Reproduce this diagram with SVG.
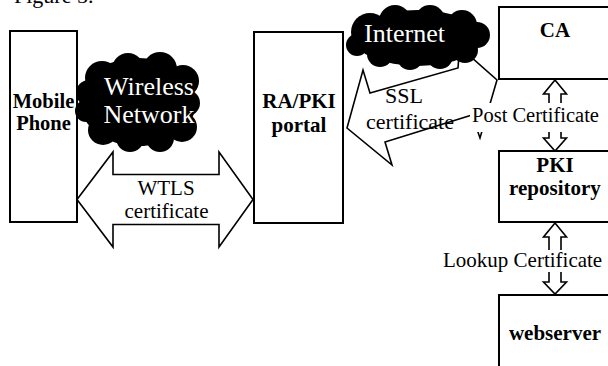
<svg xmlns="http://www.w3.org/2000/svg" width="608" height="366" viewBox="0 0 608 366">
<style>
.box{fill:#fff;stroke:#000;stroke-width:2}
.arr{fill:#fff;stroke:#000;stroke-width:1.6;stroke-linejoin:miter}
.cloud{fill:#000}
.b{font-family:"Liberation Serif","Times New Roman",serif;font-weight:bold;font-size:21px;text-anchor:middle;fill:#000}
.t{font-family:"Liberation Serif","Times New Roman",serif;font-size:21px;fill:#000}
.w{font-family:"Liberation Serif","Times New Roman",serif;font-size:26px;fill:#fff;text-anchor:middle}
.bg{fill:#fff}
</style>
<rect width="608" height="366" fill="#fff"/>
<text class="t" x="14" y="3" style="font-size:22px">Figure 5.</text>

<g id="connectors">
  <path id="ssl" class="arr" d="M347,128 L363,70 L370,93 L458,68 L459,55 L463,50 L497,80 L480,138 L472,115 L385,142 L392,165 Z"/>
  <path id="wtls" class="arr" d="M77,199.5 L113,152 L113,174.5 L219,174.5 L219,152 L253,199.5 L219,247 L219,224.5 L113,224.5 L113,247 Z"/>
  <path id="post" class="arr" d="M555,80 L566.5,94 L561,94 L561,138 L566.5,138 L555,151 L543.5,138 L549,138 L549,94 L543.5,94 Z"/>
  <path id="lookup" class="arr" d="M555,223 L566.5,237 L561,237 L561,282 L566.5,282 L555,294 L543.5,282 L549,282 L549,237 L543.5,237 Z"/>
  <text class="t" x="166" y="195" text-anchor="middle">WTLS</text>
  <text class="t" x="166.5" y="218" text-anchor="middle">certificate</text>
  <text class="t" x="404" y="103" text-anchor="middle" style="font-size:22px">SSL</text>
  <text class="t" x="410" y="129" text-anchor="middle" style="font-size:22px">certificate</text>
  <rect class="bg" x="470" y="103" width="138" height="29"/>
  <text class="t" x="472" y="122" style="font-size:20.5px">Post Certificate</text>
  <rect class="bg" x="441" y="250" width="167" height="22"/>
  <text class="t" x="443" y="267">Lookup Certificate</text>
</g>

<g id="internet">
  <g class="cloud">
    <ellipse cx="418" cy="38" rx="64" ry="28"/>
    <circle cx="370" cy="32" r="19"/>
    <circle cx="357" cy="45" r="11"/>
    <circle cx="395" cy="21" r="16"/>
    <circle cx="430" cy="20" r="15"/>
    <circle cx="462" cy="25" r="15"/>
    <circle cx="477" cy="35" r="13"/>
    <circle cx="465" cy="50" r="13"/>
    <circle cx="440" cy="56" r="13"/>
    <circle cx="410" cy="57" r="13"/>
    <circle cx="380" cy="54" r="13"/>
  </g>
  <text class="w" x="404.5" y="42">Internet</text>
</g>

<g id="mobile">
  <rect class="box" x="10" y="31" width="67" height="191"/>
  <text class="b" x="43.5" y="108" style="font-size:20.5px">Mobile</text>
  <text class="b" x="43.5" y="130" style="font-size:20.5px">Phone</text>
</g>

<g id="wireless">
  <g class="cloud">
    <ellipse cx="138" cy="102" rx="58" ry="44"/>
    <circle cx="102" cy="78" r="17"/>
    <circle cx="128" cy="69" r="16"/>
    <circle cx="160" cy="69" r="17"/>
    <circle cx="183" cy="81" r="16"/>
    <circle cx="187" cy="103" r="13"/>
    <circle cx="182" cy="127" r="15"/>
    <circle cx="160" cy="138" r="14"/>
    <circle cx="130" cy="138" r="14"/>
    <circle cx="103" cy="130" r="15"/>
    <circle cx="86" cy="111" r="11"/>
    <circle cx="89" cy="93" r="13"/>
  </g>
  <text class="w" x="149" y="95">Wireless</text>
  <text class="w" x="149" y="123">Network</text>
</g>

<g id="ra">
  <rect class="box" x="254" y="32" width="89" height="191"/>
  <text class="b" x="299" y="108">RA/PKI</text>
  <text class="b" x="299" y="132">portal</text>
</g>

<g id="ca">
  <rect class="box" x="499" y="7" width="112" height="72"/>
  <text class="b" x="555" y="37">CA</text>
</g>

<g id="pki">
  <rect class="box" x="499" y="151" width="112" height="71"/>
  <text class="b" x="555" y="172">PKI</text>
  <text class="b" x="555" y="195">repository</text>
</g>

<g id="webserver">
  <rect class="box" x="499" y="295" width="112" height="80"/>
  <text class="b" x="555" y="340">webserver</text>
</g>
</svg>
